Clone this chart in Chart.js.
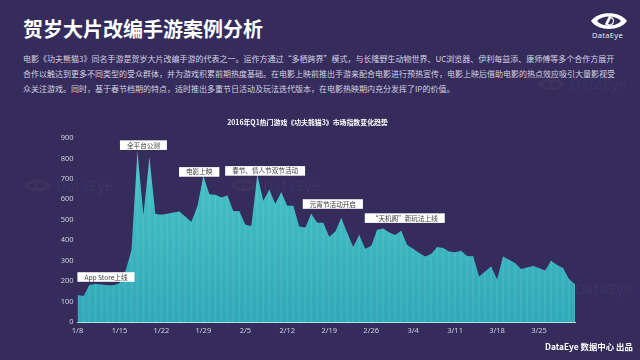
<!DOCTYPE html>
<html lang="zh">
<head>
<meta charset="utf-8">
<title>贺岁大片改编手游案例分析</title>
<script src="https://cdn.jsdelivr.net/npm/chart.js@4"></script>
<style>
  html, body { margin: 0; padding: 0; background: #352c5c; }
  #page { position: relative; width: 640px; height: 360px; overflow: hidden; font-family: "Noto Sans CJK SC", sans-serif; }
  #page div { position: absolute; white-space: nowrap; }
  #chart { position: absolute; left: 0; top: 0; }
  .heading { left: 23px; top: 15px; font-size: 20px; line-height: 28px; font-weight: 700; color: #fff; }
  .para { left: 23px; font-size: 8px; line-height: 12px; color: #d3d1e2; }
  .logo-text { left: 592px; top: 30px; font: 7.5px/10px "Noto Sans", sans-serif; letter-spacing: .3px; color: #e8e8f0; }
  .footer { left: 545px; top: 340px; font-size: 8.4px; line-height: 12px; font-weight: 700; color: #fff; }
  .mark { opacity: .03; }
  .mark-text { font: 400 14px/18px "Noto Sans", sans-serif; letter-spacing: .5px; color: #fff; opacity: .03; }
  svg { position: absolute; }
</style>
</head>
<body>
<div id="page">
  <svg width="0" height="0">
    <symbol id="eye" viewBox="0 0 38 18">
      <path d="M1 9 C8 -1.5 30 -1.5 37 9 C30 19.5 8 19.5 1 9 Z M7 9 C12 15 26 15 31 9 C26 3 12 3 7 9 Z" fill="#fff" fill-rule="evenodd"/>
      <path d="M19 4 A5 5 0 1 1 15 12 L18 6 Z M21 6 L18 12 A3 3 0 0 0 21 6 Z" fill="#fff" fill-rule="evenodd"/>
    </symbol>
  </svg>

  <svg class="mark" style="left:23px;top:178px" width="28" height="15"><use href="#eye"/></svg>
  <div class="mark-text" style="left:56px;top:177px">DataEye</div>
  <svg class="mark" style="left:230px;top:178px" width="28" height="15"><use href="#eye"/></svg>
  <div class="mark-text" style="left:263px;top:177px">DataEye</div>
  <svg class="mark" style="left:537px;top:77px" width="28" height="15"><use href="#eye"/></svg>
  <div class="mark-text" style="left:570px;top:75px">DataEye</div>
  <div class="mark-text" style="left:575px;top:280px">DataEye</div>

  <div class="heading">贺岁大片改编手游案例分析</div>
  <div class="para" style="top:53px">电影《功夫熊猫3》同名手游是贺岁大片改编手游的代表之一。运作方通过“多栖跨界”模式，与长隆野生动物世界、UC浏览器、伊利每益添、康师傅等多个合作方展开</div>
  <div class="para" style="top:68px">合作以触达到更多不同类型的受众群体，并为游戏积累前期热度基础。在电影上映前推出手游来配合电影进行预热宣传，电影上映后借助电影的热点效应吸引大量影视受</div>
  <div class="para" style="top:83px">众关注游戏。同时，基于春节档期的特点，适时推出多重节日活动及玩法迭代版本，在电影热映期内充分发挥了IP的价值。</div>

  <svg style="left:590px;top:12px" width="38" height="18"><use href="#eye"/></svg>
  <div class="logo-text">DataEye</div>

  <canvas id="chart" width="640" height="360"></canvas>

  <div class="footer">DataEye 数据中心 出品</div>
</div>

<script>
const chartTitle = '2016年Q1热门游戏《功夫熊猫3》市场指数变化趋势';

const days = [
  '1/8','1/9','1/10','1/11','1/12','1/13','1/14','1/15','1/16','1/17','1/18','1/19',
  '1/20','1/21','1/22','1/23','1/24','1/25','1/26','1/27','1/28','1/29','1/30','1/31',
  '2/1','2/2','2/3','2/4','2/5','2/6','2/7','2/8','2/9','2/10','2/11','2/12','2/13',
  '2/14','2/15','2/16','2/17','2/18','2/19','2/20','2/21','2/22','2/23','2/24','2/25',
  '2/26','2/27','2/28','2/29','3/1','3/2','3/3','3/4','3/5','3/6','3/7','3/8','3/9',
  '3/10','3/11','3/12','3/13','3/14','3/15','3/16','3/17','3/18','3/19','3/20','3/21',
  '3/22','3/23','3/24','3/25','3/26','3/27','3/28','3/29','3/30','3/31'
];

const indexValues = [
  132, 127, 181, 186, 184, 180, 180, 190, 250, 350,
  833, 525, 803, 528, 525, 530, 535, 540, 515, 490,
  565, 714, 625, 622, 609, 619, 543, 542, 476, 469,
  720, 593, 647, 578, 635, 568, 568, 467, 462, 529,
  485, 485, 417, 441, 509, 436, 368, 426, 358, 372,
  451, 457, 438, 426, 446, 377, 358, 338, 320, 332,
  367, 362, 345, 341, 348, 323, 322, 222, 247, 271,
  209, 320, 304, 288, 259, 266, 274, 264, 252, 299,
  279, 264, 210, 185
];

// event notes: text, where it is centred along the date axis (days after 1/8), index level it sits at
const noteTexts  = ['App Store上线', '全平台公测', '电影上映', '春节、情人节双节活动', '元宵节活动开启', '“天机阁”新玩法上线'];
const noteDays   = [4.75, 11, 20.3, 31.3, 42.6, 54.6];
const noteLevels = [220, 865, 734, 739, 577, 508];

const notePadding = 7;

const notesPlugin = {
  id: 'notes',
  afterDraw(chart) {
    const { ctx, scales: { x, y } } = chart;
    ctx.save();
    ctx.font = '6.6px "Noto Sans CJK SC", sans-serif';
    ctx.textAlign = 'center';
    ctx.textBaseline = 'middle';
    noteTexts.forEach((text, i) => {
      const cx = x.getPixelForValue(noteDays[i]);
      const cy = y.getPixelForValue(noteLevels[i]);
      const w = ctx.measureText(text).width + notePadding * 2;
      ctx.fillStyle = '#fff';
      ctx.fillRect(cx - w / 2, cy - 4.8, w, 9.6);
      ctx.fillStyle = '#3a3a3a';
      ctx.fillText(text, cx, cy);
    });
    ctx.restore();
  }
};

function areaFill(context) {
  const area = context.chart.chartArea;
  if (!area) return '#3cb8c0';
  const grad = context.chart.ctx.createLinearGradient(0, area.top, 0, area.bottom);
  grad.addColorStop(0, '#4ac6c8');
  grad.addColorStop(1, '#2fa8b8');
  return grad;
}

new Chart(document.getElementById('chart'), {
  type: 'line',
  plugins: [notesPlugin],
  data: {
    labels: days,
    datasets: [
      {
        type: 'bar',
        data: indexValues,
        backgroundColor: 'rgba(255,255,255,0.07)',
        barThickness: 1.5,
        order: 1
      },
      {
        type: 'line',
        data: indexValues,
        fill: 'origin',
        backgroundColor: areaFill,
        borderWidth: 0,
        pointRadius: 0,
        tension: 0,
        order: 2
      }
    ]
  },
  options: {
    responsive: false,
    animation: false,
    layout: { padding: { left: 40, right: 65, top: 118, bottom: 0 } },
    plugins: {
      legend: { display: false },
      tooltip: { enabled: false },
      title: {
        display: true,
        text: chartTitle,
        color: '#fff',
        font: { family: '"Noto Sans CJK SC", sans-serif', size: 6.9, weight: '700' },
        padding: { top: 0, bottom: 11.7 }
      }
    },
    scales: {
      x: {
        offset: false,
        afterFit(scale) { scale.height = 38; },
        grid: { display: false, drawTicks: false },
        border: { color: '#a8e4e6', width: 1 },
        ticks: {
          autoSkip: false,
          maxRotation: 0,
          padding: 4,
          color: '#cfd0dc',
          font: { family: '"Noto Sans", sans-serif', size: 7.5 },
          callback(value, i) { return i % 7 === 0 ? days[i] : ''; }
        }
      },
      y: {
        min: 0,
        max: 900,
        afterFit(scale) { scale.width = 37.5; },
        grid: { display: false, drawTicks: false },
        border: { display: false },
        ticks: {
          stepSize: 100,
          padding: 4,
          color: '#cfd0dc',
          font: { family: '"Noto Sans", sans-serif', size: 7.5 }
        }
      }
    }
  }
});
</script>
</body>
</html>
